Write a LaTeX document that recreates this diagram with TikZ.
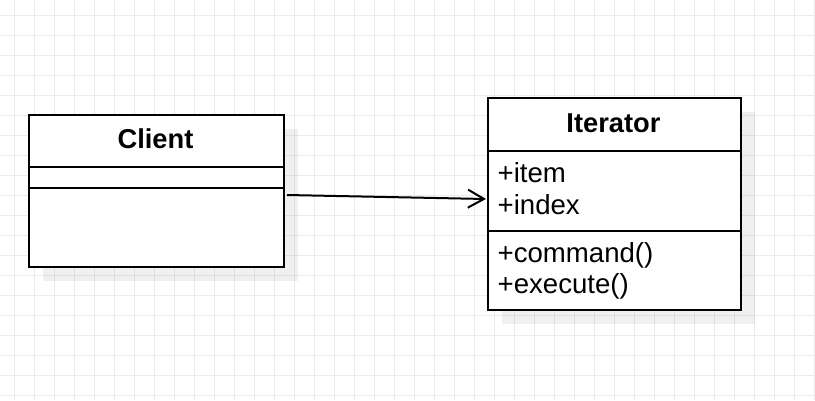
\documentclass[tikz,border=0pt]{standalone}
\usepackage{fontspec}
\setmainfont{Liberation Sans}
\usetikzlibrary{arrows.meta}
\definecolor{gridc}{HTML}{EBEBEB}
\tikzset{
  classbox/.style={draw=black, line width=2pt, fill=white, inner sep=0pt, anchor=north west},
  shadowbox/.style={fill=black, fill opacity=0.06, draw=none},
  title/.style={font=\fontsize{27.3}{32}\selectfont\bfseries, anchor=base, inner sep=0pt},
  member/.style={font=\fontsize{27.6}{32}\selectfont, anchor=base west, inner sep=0pt},
  sep/.style={line width=2pt},
  assoc/.style={line width=2pt, -{Straight Barb[length=16pt,width=18pt,line width=2pt]}}
}
\begin{document}
\begin{tikzpicture}[x=1pt,y=-1pt]
\useasboundingbox (0,0) rectangle (815,400);
\fill[white] (0,0) rectangle (815,400);
% grid
\foreach \i in {0,...,40} \draw[gridc, line width=1pt] (14.5+20*\i,0) -- (14.5+20*\i,400);
\foreach \j in {0,...,19} \draw[gridc, line width=1pt] (0,15.5+20*\j) -- (815,15.5+20*\j);
% shadows
\fill[shadowbox] (43,129) rectangle (298,281);
\fill[shadowbox] (502,112) rectangle (755,324);
% Client
\node[classbox, minimum width=255pt, minimum height=152pt] (client) at (28,114) {};
\draw[sep] (28,167) -- (283,167);
\draw[sep] (28,188) -- (283,188);
\node[title] (clientT) at (155.5,148.3) {Client};
% Iterator
\node[classbox, minimum width=253pt, minimum height=212pt] (iter) at (487,97) {};
\draw[sep] (487,150.5) -- (740,150.5);
\draw[sep] (487,230.5) -- (740,230.5);
\node[title] (iterT) at (613.5,132.3) {Iterator};
\node[member] (m1) at (497.5,182.2) {+item};
\node[member] (m2) at (497.5,214.4) {+index};
\node[member] (m3) at (497.5,262.4) {+command()};
\node[member] (m4) at (497.5,293.6) {+execute()};
% association
\coordinate (a0) at ([xshift=2pt,yshift=-81pt]client.north east);
\coordinate (a1) at ([xshift=-1pt,yshift=-102pt]iter.north west);
\draw[assoc] (a0) -- (a1);
\end{tikzpicture}
\end{document}
